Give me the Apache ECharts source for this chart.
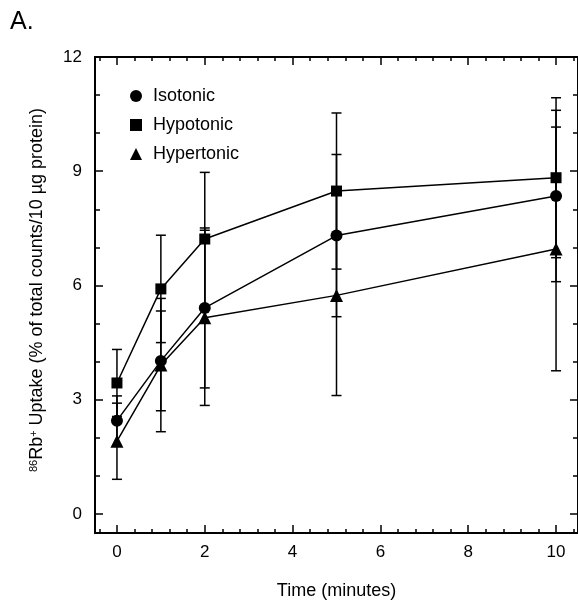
<!DOCTYPE html>
<html>
<head>
<meta charset="utf-8">
<script src="https://cdn.jsdelivr.net/npm/echarts@6/dist/echarts.min.js"></script>
<style>
  html, body { margin: 0; padding: 0; background: #fff; }
  #chart { width: 578px; height: 605px; }
</style>
</head>
<body>
<div id="chart"></div>
<script>
// time points (minutes)
const times = [0, 1, 2, 5, 10];

// 86Rb+ uptake, mean and +/- error
const isotonic = [2.45, 4.02, 5.41, 7.31, 8.35];
const isotonicErr = [0.65, 1.31, 2.1, 2.13, 2.25];
const hypotonic = [3.44, 5.91, 7.22, 8.48, 8.83];
const hypotonicErr = [0.88, 1.41, 1.75, 2.05, 2.1];
const hypertonic = [1.91, 3.91, 5.15, 5.74, 6.96];
const hypertonicErr = [1.0, 1.75, 2.3, 2.63, 3.2];

// ticks
const xMajor = [0, 2, 4, 6, 8, 10];
const xMinor = [-0.4, 0.4, 0.8, 1.2, 1.6, 2.4, 2.8, 3.2, 3.6, 4.4, 4.8, 5.2, 5.6,
  6.4, 6.8, 7.2, 7.6, 8.4, 8.8, 9.2, 9.6, 10.4];
const yMajor = [0, 3, 6, 9, 12];
const yMinor = [1, 2, 4, 5, 7, 8, 10, 11];

const font = 'Liberation Sans, Arial, sans-serif';
const black = '#000';

const chart = echarts.init(document.getElementById('chart'));

function errData(vals, errs) {
  return times.map((t, i) => [t, vals[i] - errs[i], vals[i] + errs[i]]);
}

function errBars(params, api) {
  const x = api.value(0);
  const lo = api.coord([x, api.value(1)]);
  const hi = api.coord([x, api.value(2)]);
  const w = 5;
  const style = { stroke: black, lineWidth: 1.5 };
  return {
    type: 'group',
    children: [
      { type: 'line', shape: { x1: hi[0], y1: hi[1], x2: lo[0], y2: lo[1] }, style },
      { type: 'line', shape: { x1: hi[0] - w, y1: hi[1], x2: hi[0] + w, y2: hi[1] }, style },
      { type: 'line', shape: { x1: lo[0] - w, y1: lo[1], x2: lo[0] + w, y2: lo[1] }, style }
    ]
  };
}

function xAx(pos, values, len, withLine) {
  return {
    type: 'value', position: pos, min: -0.5, max: 10.5,
    axisLine: { show: withLine, onZero: false, lineStyle: { color: black, width: 2 } },
    axisTick: { show: true, inside: true, length: len, customValues: values,
      lineStyle: { color: black, width: 1.5 } },
    axisLabel: { show: false },
    splitLine: { show: false }
  };
}

function yAx(pos, values, len, withLine) {
  return {
    type: 'value', position: pos, min: -0.5, max: 12,
    axisLine: { show: withLine, onZero: false, lineStyle: { color: black, width: 2 } },
    axisTick: { show: true, inside: true, length: len, customValues: values,
      lineStyle: { color: black, width: 1.5 } },
    axisLabel: { show: false },
    splitLine: { show: false }
  };
}

const xBottom = xAx('bottom', xMajor, 8, true);
xBottom.axisLabel = {
  show: true, customValues: xMajor, color: black, fontSize: 17,
  fontFamily: font, margin: 11
};
xBottom.name = 'Time (minutes)';
xBottom.nameLocation = 'middle';
xBottom.nameGap = 49;
xBottom.nameTextStyle = { color: black, fontSize: 18, fontFamily: font };

const yLeft = yAx('left', yMajor, 8, true);
yLeft.axisLabel = {
  show: true, customValues: yMajor, color: black, fontSize: 17,
  fontFamily: font, margin: 13
};

const option = {
  backgroundColor: '#fff',
  animation: false,
  grid: { left: 95, top: 57, width: 484, height: 479 },
  xAxis: [
    xBottom,
    xAx('bottom', xMinor, 4, false),
    xAx('top', xMajor, 8, true),
    xAx('top', xMinor, 4, false)
  ],
  yAxis: [
    yLeft,
    yAx('left', yMinor, 5, false),
    yAx('right', yMajor, 8, true),
    yAx('right', yMinor, 5, false)
  ],
  legend: {
    orient: 'vertical', left: 130, top: 87, padding: 0,
    itemWidth: 12, itemHeight: 12, itemGap: 11,
    textStyle: { color: black, fontSize: 18, fontFamily: font, lineHeight: 16,
      padding: [0, 0, 0, 6] },
    data: [
      { name: 'Isotonic', icon: 'circle' },
      { name: 'Hypotonic', icon: 'rect' },
      { name: 'Hypertonic', icon: 'triangle' }
    ]
  },
  graphic: [
    {
      type: 'text', left: 10, top: 10,
      style: { text: 'A.', fill: black, fontSize: 25, fontFamily: font }
    },
    {
      type: 'text', x: 37, y: 290, rotation: Math.PI / 2,
      style: {
        text: '{sup|86}Rb{sup|+} Uptake (% of total counts/10 µg protein)',
        fill: black, fontSize: 18, fontFamily: font,
        align: 'center', verticalAlign: 'middle',
        rich: { sup: { fontSize: 11, fontFamily: font, fill: black, verticalAlign: 'top' } }
      }
    }
  ],
  series: [
    { name: 'Isotonic err', type: 'custom', renderItem: errBars, z: 1,
      encode: { x: 0, y: [1, 2] }, data: errData(isotonic, isotonicErr) },
    { name: 'Hypotonic err', type: 'custom', renderItem: errBars, z: 1,
      encode: { x: 0, y: [1, 2] }, data: errData(hypotonic, hypotonicErr) },
    { name: 'Hypertonic err', type: 'custom', renderItem: errBars, z: 1,
      encode: { x: 0, y: [1, 2] }, data: errData(hypertonic, hypertonicErr) },
    {
      name: 'Isotonic', type: 'line', z: 3,
      symbol: 'circle', symbolSize: 12,
      lineStyle: { color: black, width: 1.5 }, itemStyle: { color: black },
      data: times.map((t, i) => [t, isotonic[i]])
    },
    {
      name: 'Hypotonic', type: 'line', z: 3,
      symbol: 'rect', symbolSize: 11,
      lineStyle: { color: black, width: 1.5 }, itemStyle: { color: black },
      data: times.map((t, i) => [t, hypotonic[i]])
    },
    {
      name: 'Hypertonic', type: 'line', z: 3,
      symbol: 'triangle', symbolSize: 13,
      lineStyle: { color: black, width: 1.5 }, itemStyle: { color: black },
      data: times.map((t, i) => [t, hypertonic[i]])
    }
  ]
};

chart.setOption(option);
</script>
</body>
</html>
